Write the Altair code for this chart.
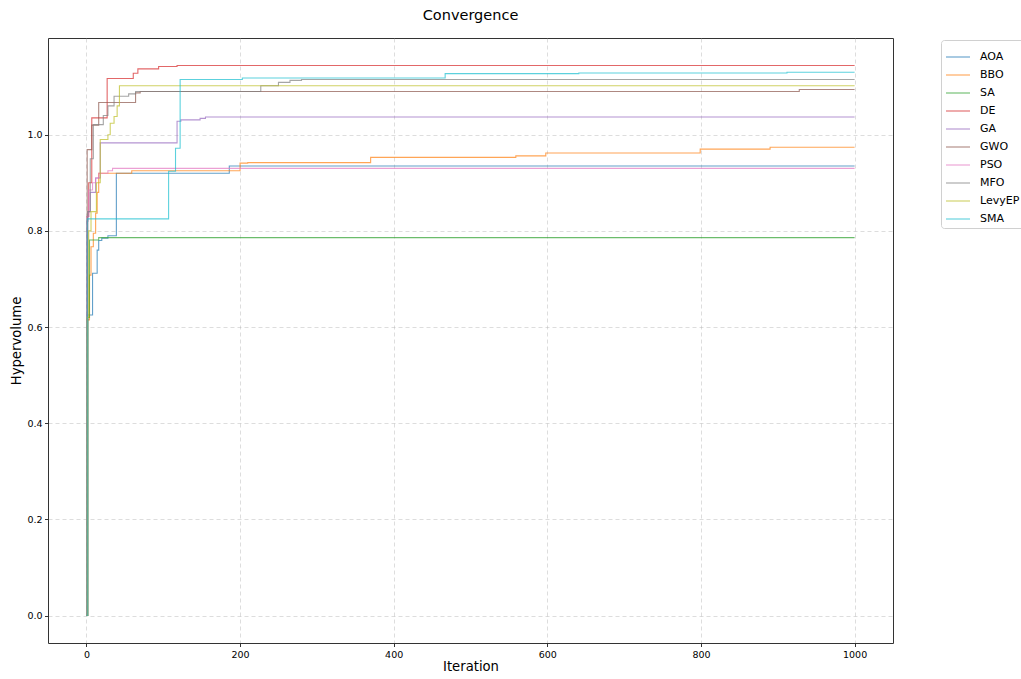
import altair as alt
import pandas as pd

# Algorithms in plotting order and their tab10 colours
algorithms = ["AOA", "BBO", "SA", "DE", "GA", "GWO", "PSO", "MFO", "LevyEP", "SMA"]
colors = ["#1f77b4", "#ff7f0e", "#2ca02c", "#d62728", "#9467bd",
          "#8c564b", "#e377c2", "#7f7f7f", "#bcbd22", "#17becf"]

# Best hypervolume per algorithm: iterations where it improves, and the new value
aoa_iter = [0, 1, 8, 14, 16, 20, 28, 39, 186, 1000]
aoa_hv = [0.0, 0.625, 0.712, 0.760, 0.780, 0.785, 0.790, 0.920, 0.935, 0.935]

bbo_iter = [0, 1, 4, 6, 9, 12, 14, 16, 59, 200, 210, 370, 559, 598, 799, 890, 1000]
bbo_hv = [0.0, 0.615, 0.708, 0.767, 0.795, 0.837, 0.880, 0.920, 0.925, 0.941,
          0.942, 0.953, 0.956, 0.962, 0.970, 0.974, 0.974]

sa_iter = [0, 2, 4, 16, 1000]
sa_hv = [0.0, 0.620, 0.781, 0.786, 0.786]

de_iter = [0, 1, 3, 7, 27, 61, 67, 94, 118, 1000]
de_hv = [0.0, 0.830, 0.900, 1.035, 1.117, 1.128, 1.137, 1.142, 1.144, 1.144]

ga_iter = [0, 1, 2, 5, 12, 18, 118, 123, 148, 155, 1000]
ga_hv = [0.0, 0.820, 0.840, 0.880, 0.910, 0.983, 1.028, 1.031, 1.034, 1.037, 1.037]

gwo_iter = [0, 1, 7, 16, 64, 70, 928, 1000]
gwo_hv = [0.0, 0.969, 1.020, 1.067, 1.087, 1.090, 1.094, 1.094]

pso_iter = [0, 1, 3, 8, 12, 16, 28, 34, 1000]
pso_hv = [0.0, 0.830, 0.885, 0.900, 0.910, 0.920, 0.925, 0.930, 0.930]

mfo_iter = [0, 2, 5, 9, 22, 28, 36, 55, 64, 227, 250, 265, 280, 1000]
mfo_hv = [0.0, 0.840, 0.950, 1.021, 1.040, 1.060, 1.080, 1.085, 1.090, 1.102,
          1.109, 1.113, 1.115, 1.115]

levyep_iter = [0, 1, 3, 6, 13, 18, 28, 31, 36, 40, 43, 1000]
levyep_hv = [0.0, 0.620, 0.800, 0.840, 0.900, 0.990, 1.000, 1.024, 1.038, 1.060, 1.102, 1.102]

sma_iter = [0, 1, 107, 116, 122, 203, 467, 641, 912, 1000]
sma_hv = [0.0, 0.825, 0.924, 0.972, 1.115, 1.118, 1.127, 1.1285, 1.130, 1.130]

series = [
    ("AOA", aoa_iter, aoa_hv), ("BBO", bbo_iter, bbo_hv), ("SA", sa_iter, sa_hv),
    ("DE", de_iter, de_hv), ("GA", ga_iter, ga_hv), ("GWO", gwo_iter, gwo_hv),
    ("PSO", pso_iter, pso_hv), ("MFO", mfo_iter, mfo_hv),
    ("LevyEP", levyep_iter, levyep_hv), ("SMA", sma_iter, sma_hv),
]

rows = []
for k, (name, its, hvs) in enumerate(series):
    for it, hv in zip(its, hvs):
        rows.append({"Algorithm": name, "Iteration": it, "Hypervolume": hv, "rank": k})
df = pd.DataFrame(rows)

FONT = "DejaVu Sans"

lines = alt.Chart(df).mark_line(
    interpolate="step-after", strokeWidth=1.1, opacity=0.7, clip=True
).encode(
    x=alt.X("Iteration:Q",
            scale=alt.Scale(domain=[-50, 1050], nice=False, zero=False),
            axis=alt.Axis(values=[0, 200, 400, 600, 800, 1000], title="Iteration",
                          format="d")),
    y=alt.Y("Hypervolume:Q",
            scale=alt.Scale(domain=[-0.0572, 1.2012], nice=False, zero=False),
            axis=alt.Axis(values=[0.0, 0.2, 0.4, 0.6, 0.8, 1.0], title="Hypervolume",
                          format=".1f")),
    color=alt.Color("Algorithm:N", sort=algorithms,
                    scale=alt.Scale(domain=algorithms, range=colors),
                    legend=alt.Legend(
                        title=None, orient="none", legendX=893, legendY=2,
                        symbolType="stroke", symbolSize=576, symbolStrokeWidth=1.1,
                        symbolOpacity=0.7, labelFontSize=11, labelFont=FONT,
                        labelColor="#000", labelOffset=9, rowPadding=0,
                        padding=4, strokeColor="#d0d0d0", cornerRadius=3,
                        fillColor="white")),
    order=alt.Order("rank:Q"),
)

chart = lines.properties(
    width=845, height=605,
    title=alt.TitleParams("Convergence", fontSize=14.5, font=FONT, fontWeight="normal",
                          anchor="middle", offset=15, color="#000"),
    padding={"left": 48, "top": 38, "right": 128, "bottom": 36},
    autosize=alt.AutoSizeParams(type="none"),
).configure_view(
    stroke="#333", strokeWidth=1
).configure_axis(
    labelFont=FONT, labelFontSize=9.5, labelColor="#000",
    titleFont=FONT, titleFontSize=13.2, titleFontWeight="normal", titleColor="#000",
    tickColor="#000", tickSize=3.5, tickWidth=0.8, labelPadding=2.5,
    domain=False, grid=True, gridColor="#b0b0b0", gridOpacity=0.55,
    gridDash=[4, 3], gridWidth=0.8,
).configure_axisX(titlePadding=2).configure_axisY(titlePadding=3)

chart.save("out.html", embed_options={"renderer": "svg", "actions": False})
